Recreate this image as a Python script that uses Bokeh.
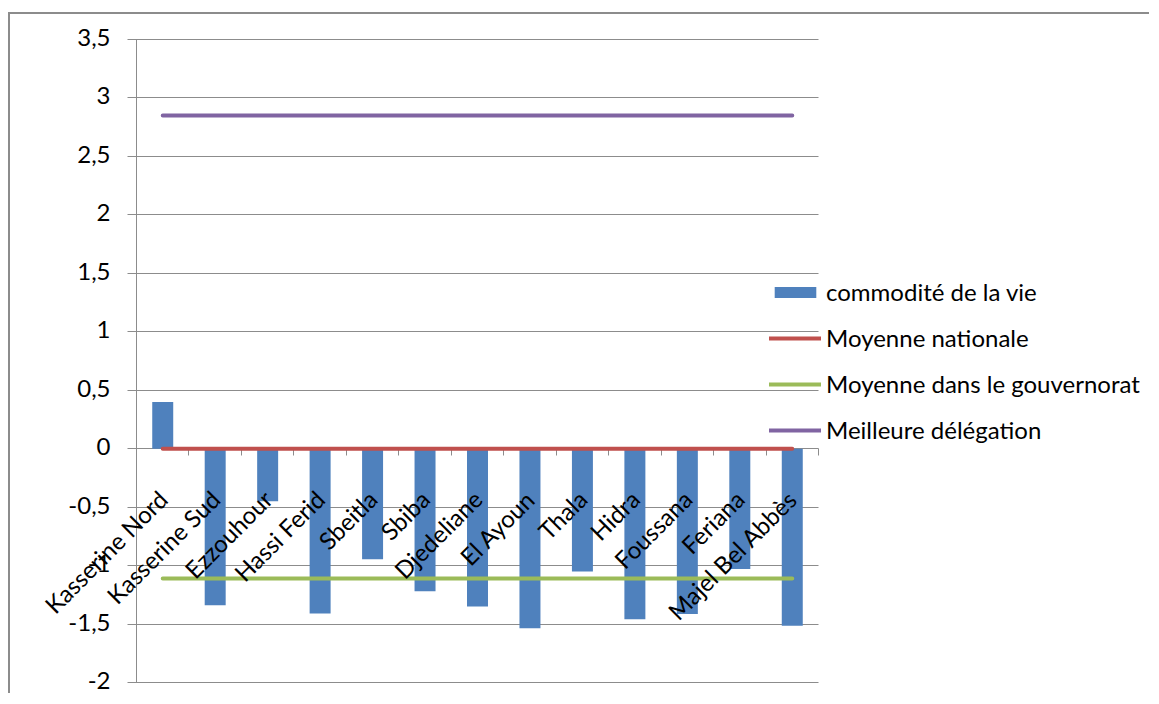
import math
from bokeh.plotting import figure
from bokeh.models import Range1d, FixedTicker, Grid
from bokeh.core.properties import value
from bokeh.embed import file_html
from bokeh.resources import INLINE

# ---- data ----
delegations = ["Kasserine Nord", "Kasserine Sud", "Ezzouhour", "Hassi Ferid", "Sbeitla",
               "Sbiba", "Djedeliane", "El Ayoun", "Thala", "Hidra", "Foussana",
               "Feriana", "Majel Bel Abbès"]
commodite = [0.40, -1.34, -0.45, -1.41, -0.945, -1.22, -1.35, -1.535, -1.05, -1.46,
             -1.415, -1.03, -1.515]
moyenne_nationale = [0.0] * len(delegations)
moyenne_gouvernorat = [-1.11] * len(delegations)
meilleure_delegation = [2.85] * len(delegations)
y_ticks = [-2, -1.5, -1, -0.5, 0, 0.5, 1, 1.5, 2, 2.5, 3, 3.5]
y_tick_labels = ["-2", "-1,5", "-1", "-0,5", "0", "0,5", "1", "1,5", "2", "2,5", "3", "3,5"]

FONT = "Lato"
FS = "24px"
GRAY = "#8c8c8c"

n = len(delegations)
xs = [i + 0.5 for i in range(n)]

# ---- layout (pixels) ----
W, H = 1141, 681           # figure size
PLOT_L, PLOT_R = 126, 808  # category area inside the frame (px from frame left)
PLOT_T, PLOT_B = 25, 668   # value area inside the frame (px from frame top)
TICK_Y = 9                 # value-axis tick length
TICK_X = 7                 # category-axis tick length
px_x = (PLOT_R - PLOT_L) / n
px_y = (PLOT_B - PLOT_T) / (y_ticks[-1] - y_ticks[0])
x_start = -PLOT_L / px_x
x_end = (W - PLOT_L) / px_x
y_end = y_ticks[-1] + PLOT_T / px_y
y_start = y_ticks[0] - (H - PLOT_B) / px_y

p = figure(width=W, height=H, output_backend="svg", toolbar_location=None,
           x_range=Range1d(x_start, x_end), y_range=Range1d(y_start, y_end),
           x_axis_type=None, y_axis_type=None,
           min_border_left=0, min_border_top=0, min_border_right=0,
           min_border_bottom=0)
p.styles = {"margin-top": "12px", "margin-left": "8px",
            "border-top": "2px solid #8c8c8c", "border-left": "2px solid #8c8c8c"}
p.outline_line_color = None
p.background_fill_color = "white"
p.border_fill_color = "white"

# horizontal gridlines (with their tick marks left of the value axis)
p.add_layout(Grid(dimension=1, ticker=FixedTicker(ticks=y_ticks),
                  cross_bounds=(-TICK_Y / px_x, n), grid_line_color=GRAY))
# value axis line
p.add_layout(Grid(dimension=0, ticker=FixedTicker(ticks=[0]),
                  cross_bounds=(y_ticks[0], y_ticks[-1]), grid_line_color=GRAY))
# category tick marks below the zero line
p.add_layout(Grid(dimension=0, ticker=FixedTicker(ticks=list(range(1, n + 1))),
                  cross_bounds=(-TICK_X / px_y, 0), grid_line_color=GRAY))

# series
p.vbar(x=xs, top=commodite, bottom=0, width=0.4, fill_color="#4F81BD",
       line_color=None, legend_label="commodité de la vie")
p.line(xs, moyenne_nationale, line_color="#C0504D", line_width=4, line_cap="round",
       legend_label="Moyenne nationale")
p.line(xs, moyenne_gouvernorat, line_color="#9BBB59", line_width=4, line_cap="round",
       legend_label="Moyenne dans le gouvernorat")
p.line(xs, meilleure_delegation, line_color="#8064A2", line_width=4, line_cap="round",
       legend_label="Meilleure délégation")

# value-axis tick labels
p.text(x=[0] * len(y_ticks), y=y_ticks, text=y_tick_labels, text_align="right",
       text_baseline="middle", x_offset=-(TICK_Y + 17), y_offset=-2,
       text_font=value(FONT), text_font_size=FS, text_color="black")

# category labels
p.text(x=xs, y=[0] * n, text=delegations, angle=math.pi / 4, text_align="right",
       text_baseline="middle", x_offset=0, y_offset=46, text_font=value(FONT),
       text_font_size=FS, text_color="black")

lg = p.legend[0]
lg.location = (759, 251)
lg.glyph_width = 52
lg.glyph_height = 14
lg.label_height = 20
lg.spacing = 17
lg.padding = 0
lg.margin = 0
lg.label_standoff = 5
lg.border_line_color = None
lg.background_fill_alpha = 0
lg.label_text_font = FONT
lg.label_text_font_size = FS
lg.label_text_color = "black"

open("out.html", "w").write(file_html(p, INLINE))
